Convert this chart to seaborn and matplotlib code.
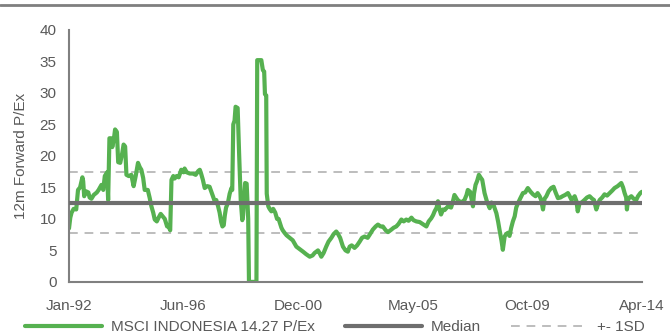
import numpy as np
import pandas as pd
import matplotlib
matplotlib.use("Agg")
import matplotlib.pyplot as plt
import seaborn as sns
from matplotlib.lines import Line2D

# 12m forward P/E, MSCI Indonesia (dates as decimal years)
years = [
    1992.00, 1992.05, 1992.10, 1992.18, 1992.28, 1992.35, 1992.43, 1992.52, 1992.55, 1992.59,
    1992.65, 1992.75, 1992.80, 1992.87, 1992.96, 1993.08, 1993.15, 1993.26, 1993.33, 1993.39,
    1993.48, 1993.52, 1993.57, 1993.64, 1993.68, 1993.74, 1993.79, 1993.86, 1993.91, 1993.99,
    1994.07, 1994.12, 1994.18, 1994.23, 1994.32, 1994.42, 1994.51, 1994.59, 1994.68, 1994.75,
    1994.81, 1994.88, 1994.94, 1995.06, 1995.13, 1995.20, 1995.27, 1995.33, 1995.41, 1995.48,
    1995.56, 1995.64, 1995.72, 1995.81, 1995.87, 1995.93, 1995.98, 1996.05, 1996.10, 1996.18,
    1996.26, 1996.36, 1996.45, 1996.49, 1996.57, 1996.69, 1996.81, 1996.92, 1997.02, 1997.08,
    1997.13, 1997.20, 1997.27, 1997.37, 1997.46, 1997.52, 1997.59, 1997.66, 1997.72, 1997.79,
    1997.85, 1997.91, 1997.96, 1998.01, 1998.05, 1998.10, 1998.17, 1998.24, 1998.31, 1998.34,
    1998.38, 1998.43, 1998.47, 1998.55, 1998.61, 1998.67, 1998.73, 1998.76, 1998.84, 1998.90,
    1998.96, 1998.99, 1999.28, 1999.31, 1999.47, 1999.53, 1999.58, 1999.61, 1999.66, 1999.68,
    1999.74, 1999.79, 1999.86, 1999.93, 2000.01, 2000.08, 2000.14, 2000.25, 2000.30, 2000.37,
    2000.45, 2000.57, 2000.69, 2000.83, 2000.96, 2001.09, 2001.21, 2001.35, 2001.46, 2001.54,
    2001.67, 2001.73, 2001.80, 2001.89, 2001.99, 2002.08, 2002.19, 2002.28, 2002.38, 2002.45,
    2002.53, 2002.64, 2002.74, 2002.83, 2002.90, 2002.98, 2003.09, 2003.19, 2003.29, 2003.38,
    2003.48, 2003.60, 2003.68, 2003.80, 2003.91, 2004.00, 2004.10, 2004.19, 2004.30, 2004.39,
    2004.52, 2004.61, 2004.71, 2004.80, 2004.91, 2005.00, 2005.10, 2005.19, 2005.30, 2005.38,
    2005.49, 2005.62, 2005.73, 2005.88, 2005.97, 2006.07, 2006.14, 2006.20, 2006.28, 2006.33,
    2006.39, 2006.45, 2006.53, 2006.59, 2006.72, 2006.84, 2006.90, 2006.97, 2007.10, 2007.23,
    2007.36, 2007.44, 2007.49, 2007.58, 2007.69, 2007.73, 2007.79, 2007.85, 2007.92, 2007.98,
    2008.05, 2008.10, 2008.14, 2008.23, 2008.34, 2008.41, 2008.49, 2008.60, 2008.67, 2008.72,
    2008.80, 2008.85, 2008.92, 2008.98, 2009.05, 2009.11, 2009.17, 2009.24, 2009.31, 2009.37,
    2009.44, 2009.52, 2009.63, 2009.72, 2009.82, 2009.93, 2010.02, 2010.12, 2010.20, 2010.28,
    2010.34, 2010.41, 2010.47, 2010.54, 2010.63, 2010.73, 2010.82, 2010.90, 2010.99, 2011.09,
    2011.17, 2011.27, 2011.38, 2011.46, 2011.52, 2011.64, 2011.71, 2011.76, 2011.83, 2011.91,
    2012.02, 2012.12, 2012.22, 2012.32, 2012.39, 2012.48, 2012.55, 2012.61, 2012.71, 2012.80,
    2012.90, 2013.00, 2013.10, 2013.19, 2013.31, 2013.45, 2013.52, 2013.58, 2013.64, 2013.67,
    2013.71, 2013.77, 2013.84, 2013.93, 2014.03, 2014.10, 2014.19, 2014.25,
]
pe = [
    8.5, 10.2, 11.0, 11.6, 11.5, 14.6, 15.0, 16.6, 16.0, 13.6,
    14.4, 14.2, 13.4, 13.2, 13.8, 14.2, 14.6, 15.4, 14.6, 16.8,
    17.4, 13.0, 22.8, 22.8, 21.4, 22.6, 24.2, 23.8, 19.0, 18.9,
    20.5, 21.8, 21.5, 17.0, 16.8, 17.0, 15.2, 16.8, 18.9, 18.2,
    17.8, 16.5, 14.6, 14.6, 13.4, 12.0, 11.0, 9.9, 9.6, 10.2,
    10.8, 10.4, 10.0, 8.8, 8.8, 8.2, 16.2, 16.8, 16.4, 16.8,
    16.6, 17.8, 17.4, 18.0, 17.4, 17.2, 17.2, 17.0, 17.6, 17.8,
    17.2, 16.2, 14.9, 15.2, 15.1, 14.4, 13.6, 12.8, 13.0, 12.0,
    11.0, 9.5, 8.8, 9.0, 10.5, 11.8, 12.5, 14.0, 14.9, 14.6,
    25.0, 25.6, 27.8, 27.6, 20.0, 13.0, 9.8, 10.5, 15.7, 15.6,
    10.0, 0.0, 0.0, 35.2, 35.2, 33.6, 33.4, 29.8, 29.6, 14.0,
    12.0, 11.6, 11.2, 11.6, 11.0, 10.0, 10.0, 8.6, 8.2, 7.8,
    7.4, 7.0, 6.6, 5.6, 5.2, 4.8, 4.4, 4.0, 4.2, 4.6,
    5.0, 4.6, 4.0, 4.6, 5.6, 6.4, 7.0, 7.6, 8.0, 7.6,
    7.0, 5.6, 5.0, 4.8, 5.6, 5.8, 5.4, 5.8, 6.4, 7.0,
    7.2, 7.0, 7.5, 8.3, 8.8, 9.1, 8.8, 8.8, 8.2, 7.9,
    8.3, 8.6, 8.8, 9.2, 9.9, 9.6, 9.9, 9.7, 10.2, 9.8,
    9.6, 9.5, 9.2, 8.8, 9.6, 10.1, 10.6, 11.2, 11.8, 12.8,
    11.5, 10.7, 11.5, 11.4, 12.0, 11.8, 12.6, 13.8, 13.0, 12.6,
    13.0, 13.8, 14.6, 14.3, 12.0, 14.0, 15.4, 16.0, 17.0, 16.6,
    16.2, 15.0, 14.1, 12.8, 11.7, 12.6, 12.2, 10.9, 9.5, 8.3,
    6.5, 5.1, 7.2, 7.6, 7.8, 7.3, 8.5, 9.6, 10.4, 11.8,
    12.5, 13.2, 14.1, 14.2, 14.9, 14.3, 13.9, 13.6, 14.1, 13.6,
    13.0, 11.5, 13.2, 13.6, 14.4, 14.9, 15.1, 14.2, 13.3, 13.4,
    13.6, 13.8, 14.1, 13.5, 13.0, 13.6, 12.8, 11.2, 12.5, 12.6,
    13.0, 13.4, 13.6, 13.2, 13.0, 11.5, 12.4, 13.0, 13.4, 13.9,
    13.7, 14.1, 14.5, 14.9, 15.2, 15.7, 15.0, 14.1, 13.4, 11.5,
    13.0, 13.4, 13.6, 13.2, 13.0, 13.6, 14.1, 14.3,
]
median_pe = 12.45
sd_upper = 17.4
sd_lower = 7.8

tick_labels = ["Jan-92", "Jun-96", "Dec-00", "May-05", "Oct-09", "Apr-14"]

df = pd.DataFrame({"year": years, "pe": pe})

sns.set_style("white")
plt.rcParams["font.family"] = ["Liberation Sans", "DejaVu Sans"]

green = "#56b150"
dark = "#6e6e6e"
light = "#bdbdbd"
txt = "#595959"
fs = 11

fig = plt.figure(figsize=(6.7, 3.36), dpi=100)
ax = fig.add_axes([0.103, 0.161, 0.855, 0.75])

ax.axhline(sd_upper, color=light, lw=1.4, ls=(0, (4.5, 3.5)), zorder=1)
ax.axhline(sd_lower, color=light, lw=1.4, ls=(0, (4.5, 3.5)), zorder=1)
sns.lineplot(data=df, x="year", y="pe", ax=ax, color=green, linewidth=3,
             estimator=None, sort=False, zorder=2)
ax.axhline(median_pe, color=dark, lw=3, zorder=3)

ax.set_xlim(1992.0, 2014.25)
ax.set_ylim(0, 40)
ax.set_yticks(range(0, 41, 5))
ax.set_xticks(np.linspace(1992.0, 2014.25, len(tick_labels)))
ax.set_xticklabels(tick_labels)
ax.set_xlabel("")
ax.set_ylabel("12m Forward P/Ex", color=txt, fontsize=fs, labelpad=8)

for s in ["top", "right"]:
    ax.spines[s].set_visible(False)
for s in ["left", "bottom"]:
    ax.spines[s].set_color("#808080")
    ax.spines[s].set_linewidth(1.5)
ax.tick_params(axis="both", colors="#808080", labelcolor=txt, labelsize=fs,
               length=5, width=1.5, direction="out")
ax.tick_params(axis="x", pad=7)
ax.tick_params(axis="y", pad=4)
if ax.get_legend() is not None:
    ax.get_legend().remove()

# top rule across the figure
fig.add_artist(Line2D([0, 1], [1 - 5 / 336, 1 - 5 / 336], transform=fig.transFigure,
                      color="#7f7f7f", lw=2))

handles = [
    Line2D([], [], color=green, lw=3),
    Line2D([], [], color=dark, lw=3),
    Line2D([], [], color=light, lw=1.4, ls=(0, (4.5, 3.5))),
]
labels = ["MSCI INDONESIA 14.27 P/Ex", "Median", "+- 1SD"]
leg = fig.legend(handles, labels, loc="center", bbox_to_anchor=(0.5, 1 - 327 / 336),
                 ncol=3, frameon=False, handlelength=5.0, columnspacing=2.0,
                 handletextpad=0.6, fontsize=fs)
for t in leg.get_texts():
    t.set_color(txt)

fig.savefig("out.png", dpi=100)
